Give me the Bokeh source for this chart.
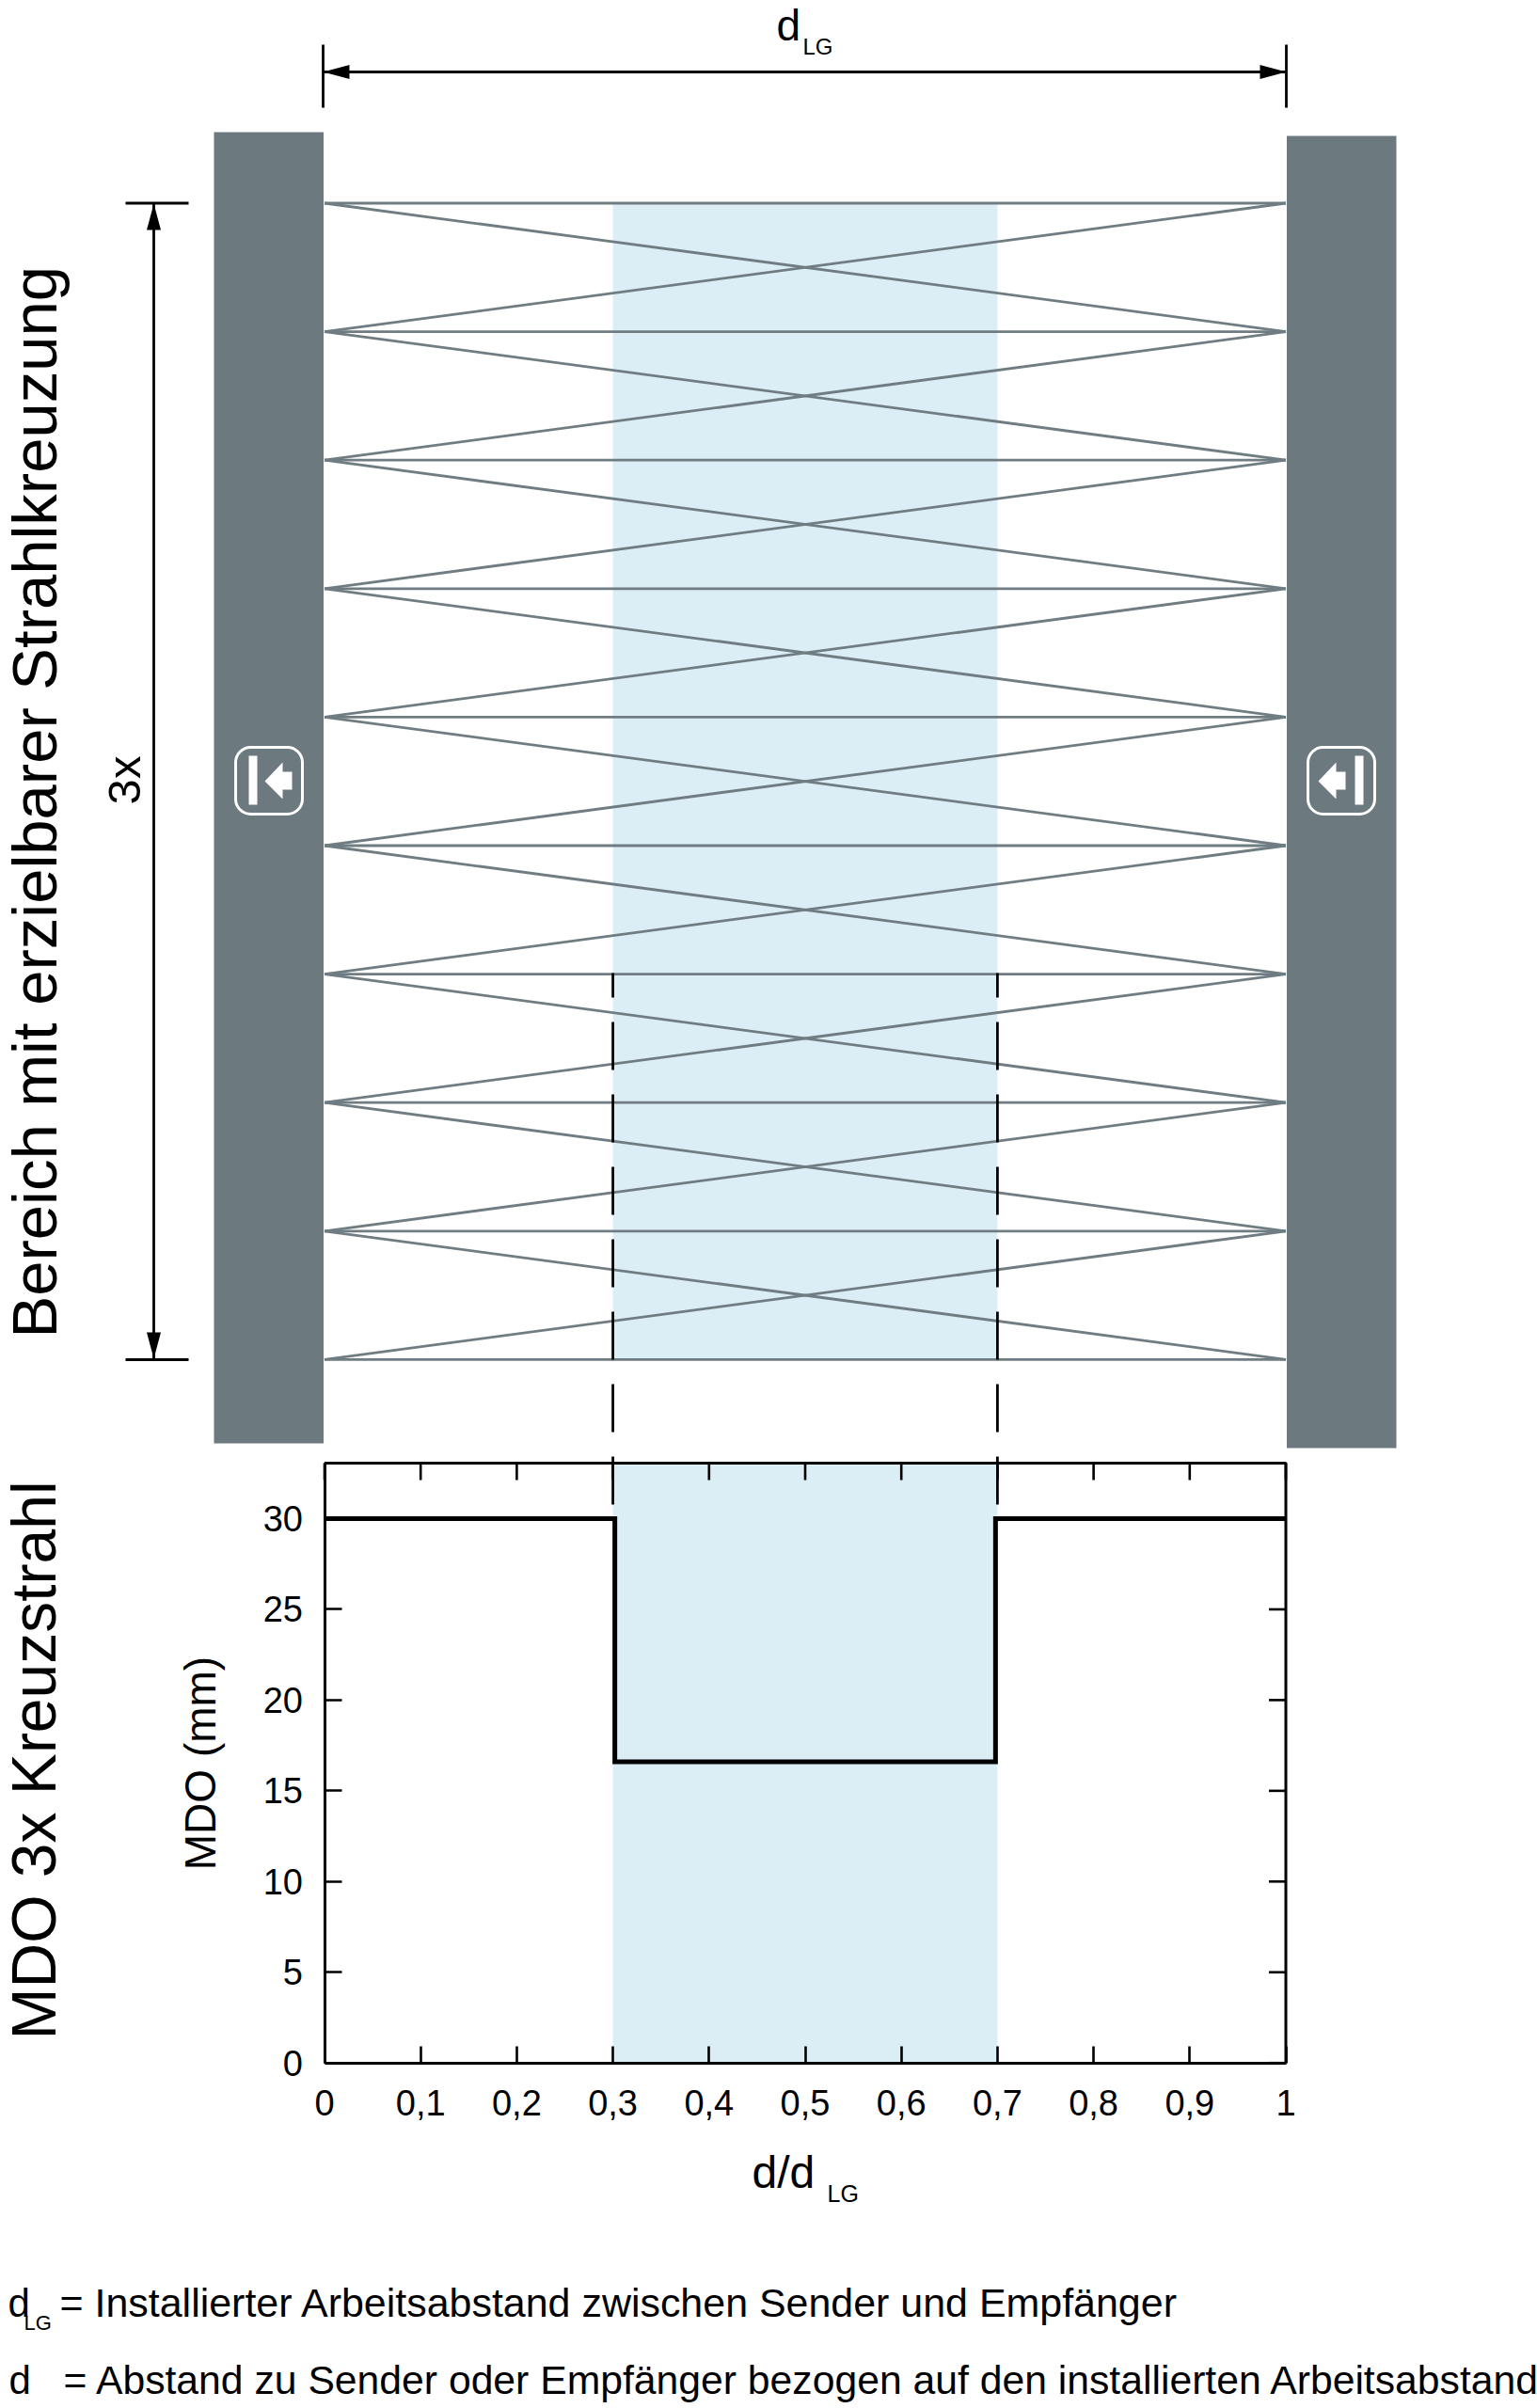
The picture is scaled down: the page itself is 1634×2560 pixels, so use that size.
from math import pi
from bokeh.core.properties import value
from bokeh.embed import file_html
from bokeh.resources import INLINE
from bokeh.models import Range1d, FixedTicker, LinearAxis
from bokeh.plotting import figure

# ---------- data ----------
beam_levels = [0, 1, 2, 3, 4, 5, 6, 7, 8, 9]
zone_start = 0.3
zone_end = 0.7
step_d = [0, 0.302, 0.302, 0.698, 0.698, 1]
step_mdo = [30, 30, 16.6, 16.6, 30, 30]
x_ticks = [0, 0.1, 0.2, 0.3, 0.4, 0.5, 0.6, 0.7, 0.8, 0.9, 1]
x_tick_labels = ["0", "0,1", "0,2", "0,3", "0,4", "0,5", "0,6", "0,7", "0,8", "0,9", "1"]
y_ticks = [0, 5, 10, 15, 20, 25, 30]
title_upper = "Bereich mit erzielbarer Strahlkreuzung"
title_lower = "MDO 3x Kreuzstrahl"
legend_line_1 = "= Installierter Arbeitsabstand zwischen Sender und Empfänger"
legend_line_2 = "= Abstand zu Sender oder Empfänger bezogen auf den installierten Arbeitsabstand"

FONT = "Liberation Sans"
GREY = "#6c797e"
BEAM = "#6f7d83"
BLUE = "#dbedf5"
W = 1634
H = 2560


# page pixel -> chart coordinates
def dx(px):
    return (px - 344.5) / 1022


def lvl(py):
    return (py - 215.5) / 136.6


def mm(py):
    return (2192.7 - py) / 19.29


Y_TOP = mm(1555)

p = figure(width=W, height=H, output_backend="svg", toolbar_location=None,
           x_range=Range1d(dx(0), dx(W)), y_range=Range1d(mm(H), mm(0)),
           x_axis_location=None, y_axis_location=None,
           min_border=0, background_fill_color="white", border_fill_color="white")
p.extra_y_ranges = {"levels": Range1d(lvl(H), lvl(0))}
p.grid.visible = False
p.outline_line_color = None

# blue zones
p.quad(left=[zone_start], right=[zone_end], top=[beam_levels[0]], bottom=[beam_levels[-1]],
       fill_color=BLUE, line_color=None, y_range_name="levels")
p.quad(left=[zone_start], right=[zone_end], top=[Y_TOP], bottom=[0], fill_color=BLUE, line_color=None)

# beams
xs, ys = [], []
for a in beam_levels:
    xs.append([0, 1]); ys.append([a, a])
for a, b in zip(beam_levels[:-1], beam_levels[1:]):
    xs.append([0, 1]); ys.append([a, b])
    xs.append([0, 1]); ys.append([b, a])
p.multi_line(xs, ys, line_color=BEAM, line_width=2.8, y_range_name="levels")

# dashed guides
for xz in (zone_start, zone_end):
    p.line([xz, xz], [mm(1034), mm(1599)], line_color="black", line_width=2.8,
           line_dash=[51, 26], line_dash_offset=25)

# sender and receiver housings
p.quad(left=[dx(227), dx(1367.5)], right=[dx(343.5), dx(1484)],
       top=[mm(140), mm(144)], bottom=[mm(1534), mm(1539)],
       fill_color=GREY, line_color=None)

# icons
p.quad(left=[dx(250), dx(1390)], right=[dx(321), dx(1461)], top=[mm(794), mm(794)], bottom=[mm(865), mm(865)],
       fill_color=None, line_color="white", line_width=3, border_radius=16)
p.quad(left=[dx(264), dx(1440)], right=[dx(273), dx(1449)], top=[mm(803), mm(803)], bottom=[mm(855), mm(855)],
       fill_color="white", line_color=None)
for off in (0, 1120):
    pts = [(281, 830), (300, 810), (300, 820), (310, 820), (310, 839), (300, 839), (300, 849)]
    p.patch([dx(a + off) for a, _ in pts], [mm(b) for _, b in pts], fill_color="white", line_color=None)

# dimension lines
p.line([dx(343), dx(1367)], [mm(76), mm(76)], line_color="black", line_width=2.8)
for xv in (343, 1367):
    p.line([dx(xv), dx(xv)], [mm(47), mm(114)], line_color="black", line_width=2.8)
p.patch([dx(343), dx(371), dx(371)], [mm(76), mm(68.5), mm(83.5)], fill_color="black", line_color=None)
p.patch([dx(1367), dx(1339), dx(1339)], [mm(76), mm(68.5), mm(83.5)], fill_color="black", line_color=None)

p.line([dx(163), dx(163)], [mm(215.5), mm(1445)], line_color="black", line_width=2.8)
for yv in (215.5, 1445):
    p.line([dx(133), dx(200)], [mm(yv), mm(yv)], line_color="black", line_width=2.8)
p.patch([dx(163), dx(155.5), dx(170.5)], [mm(216), mm(244), mm(244)], fill_color="black", line_color=None)
p.patch([dx(163), dx(155.5), dx(170.5)], [mm(1444), mm(1416), mm(1416)], fill_color="black", line_color=None)

# lower chart: frame, step, axes
p.line([0, 1, 1], [Y_TOP, Y_TOP, 0], line_color="black", line_width=3)
p.line(step_d, step_mdo, line_color="black", line_width=5, line_join="miter")
p.segment(x_ticks, [Y_TOP] * len(x_ticks), x_ticks, [Y_TOP - 18 / 19.29] * len(x_ticks),
          line_color="black", line_width=2.6)
p.segment([1] * len(y_ticks), y_ticks, [1 - 18 / 1022] * len(y_ticks), y_ticks,
          line_color="black", line_width=2.6)

xax = LinearAxis(fixed_location=0, bounds=(0, 1), ticker=FixedTicker(ticks=x_ticks),
                 major_label_overrides={t: l for t, l in zip(x_ticks, x_tick_labels)})
yax = LinearAxis(fixed_location=0, bounds=(0, Y_TOP), ticker=FixedTicker(ticks=y_ticks))
yax.axis_label = "MDO (mm)"
yax.axis_label_text_font = FONT
yax.axis_label_text_font_size = "46px"
yax.axis_label_text_font_style = "normal"
yax.axis_label_text_color = "black"
yax.axis_label_standoff = 38
for ax in (xax, yax):
    ax.major_label_text_font = FONT
    ax.major_label_text_font_size = "38px"
    ax.major_label_text_color = "black"
    ax.major_tick_in = 18
    ax.major_tick_out = 0
    ax.minor_tick_in = 0
    ax.minor_tick_out = 0
    ax.major_tick_line_color = "black"
    ax.major_tick_line_width = 2.6
    ax.axis_line_color = "black"
    ax.axis_line_width = 3
xax.major_label_standoff = 29
yax.major_label_standoff = 23
p.add_layout(xax, "below")
p.add_layout(yax, "left")


def add_text(px, py, text, size, angle=0.0, align="left"):
    s = float(size[:-2]) * 0.39
    if angle:
        px -= s
    else:
        py -= s
    p.text([dx(px)], [mm(py)], text=[text], angle=angle, text_font=value(FONT), text_font_size=value(size),
           text_align=align, text_baseline="alphabetic", text_color="black")


add_text(825, 44, "d", "46px")
add_text(853, 58, "LG", "24px")
add_text(62.5, 1422, title_upper, "67px", pi / 2)
add_text(151, 829, "3x", "49px", pi / 2, "center")
add_text(61, 2168, title_lower, "66px", pi / 2)
add_text(799, 2328, "d/d", "48px")
add_text(879, 2341, "LG", "25px")
add_text(8, 2464, "d", "42px")
add_text(25, 2478, "LG", "22px")
add_text(63, 2464.5, legend_line_1, "42.95px")
add_text(9, 2546, "d", "42px")
add_text(67, 2546.5, legend_line_2, "42.7px")

open("out.html", "w").write(file_html(p, INLINE))
